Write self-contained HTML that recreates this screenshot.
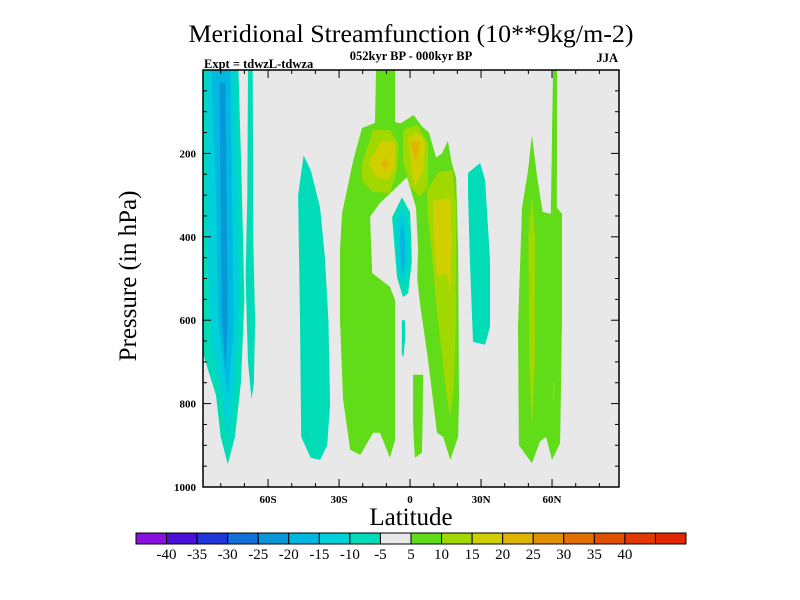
<!DOCTYPE html>
<html><head><meta charset="utf-8"><style>
body{margin:0;background:#fff;}
svg{display:block;font-family:"Liberation Serif",serif;}
</style></head><body>
<svg id="chart" width="800" height="600" viewBox="0 0 800 600" xmlns="http://www.w3.org/2000/svg">
<text x="411" y="42" text-anchor="middle" font-size="25" textLength="445" lengthAdjust="spacingAndGlyphs">Meridional Streamfunction (10**9kg/m-2)</text>
<text x="411" y="60" text-anchor="middle" font-size="12.5" font-weight="bold">052kyr BP - 000kyr BP</text>
<text x="204" y="68" font-size="12.5" font-weight="bold">Expt = tdwzL-tdwza</text>
<text x="618" y="62" text-anchor="end" font-size="12.5" font-weight="bold">JJA</text>
<rect x="203" y="70" width="416" height="417" fill="#e8e8e8"/>
<g id="fields"></g>
<g id="axes"></g>
<text transform="translate(136,276) rotate(-90)" text-anchor="middle" font-size="25">Pressure (in hPa)</text>
<text x="411" y="525" text-anchor="middle" font-size="25">Latitude</text>
<g id="cbar"></g>
</svg>
<script>
// Contour levels & colors
const levelColors = ["#8a10e0","#4a10d8","#2036d8","#1070d8","#0898d8","#00b8e0","#00d0d8","#00dcb8","#e8e8e8","#60dc18","#a0d800","#d0d000","#e0b400","#e09000","#e07000","#e05000","#e03800","#e02800"];
const levelLabels = ["-40","-35","-30","-25","-20","-15","-10","-5","5","10","15","20","25","30","35","40"];
const latTicks = [-60,-30,0,30,60];
const latTickLabels = ["60S","30S","0","30N","60N"];
const presTicks = [200,400,600,800,1000];
// Contour regions: [colorIndex, [[lat,pressure],...]]
const regionLevels = [7,6,5,4,7,7,9,9,10,10,10,11,12,11,12,11,7,6,5,7,7,9,10,10];
const regionShapes = [
 [[-87.5,0],[-72.5,0],[-71,300],[-70,550],[-71.5,750],[-74,880],[-77,945],[-80,880],[-82,780],[-87.5,680]],
 [[-86,0],[-74,0],[-73,300],[-72,550],[-74,750],[-77,880],[-79,800],[-84,650],[-86,400]],
 [[-84,0],[-76,0],[-75,400],[-74.5,620],[-77,780],[-79,700],[-81,600],[-82,300]],
 [[-80.5,30],[-78,30],[-77.5,350],[-77,600],[-78,720],[-79.5,600],[-80,350]],
 [[-68.5,0],[-66.5,0],[-66.3,400],[-65.5,600],[-66,750],[-67,790],[-68.5,700],[-69.5,500],[-68.8,300]],
 [[-45,205],[-42,240],[-38,330],[-36,450],[-34.5,600],[-33.8,800],[-35,900],[-38,935],[-42,930],[-46,880],[-46.5,600],[-47.3,300]],
 [[-14.4,0],[-6.3,0],[-6.3,125],[-4,128],[1.5,108],[5,135],[8,150],[11,210],[13.5,200],[16,170],[17.5,220],[19.5,260],[20.3,430],[20.7,790],[20.3,880],[17,935],[14,880],[11.4,870],[7.6,695],[4.2,560],[3,500],[3.4,430],[2.5,330],[-1.3,257],[-12.7,319],[-16.9,352],[-16,487],[-8.5,520],[-6.3,552],[-6.3,887],[-8.5,930],[-12.7,870],[-15.6,870],[-21,923],[-25.3,911],[-28.3,790],[-29.6,600],[-29.6,432],[-28.7,343],[-24,216],[-20.3,139],[-14.8,127]],
 [[1.3,731],[5.5,731],[5.3,850],[5,918],[2,930],[1.3,850]],
 [[-20.3,223],[-15.6,144],[-8.5,144],[-5,175],[-5.5,240],[-8.5,295],[-16,292],[-20.3,264]],
 [[-3,144],[3,132],[7.6,175],[7.6,280],[4.2,304],[0,280],[-3,216]],
 [[7,290],[12,245],[18,240],[19.5,330],[19.5,600],[18.5,760],[17,830],[15,760],[11,560],[9,430],[7.5,350]],
 [[-17.7,223],[-11.8,168],[-6.3,175],[-6.3,233],[-9.7,264],[-14,257]],
 [[-12.5,225],[-10.5,210],[-8.5,225],[-10.5,240]],
 [[-0.8,163],[3.4,149],[6.3,175],[5.5,240],[2.1,280],[0.8,240]],
 [[0,168],[4.2,173],[3,209],[2.1,216],[0.8,192]],
 [[9.7,312],[17,307],[17.7,408],[17,535],[15.6,487],[11.4,496],[9.7,383]],
 [[-3.4,305],[0,341],[0.8,456],[-0.8,535],[-3,545],[-5.5,497],[-7.6,353]],
 [[-3.5,330],[-1.2,360],[-0.5,450],[-2,500],[-3.5,510],[-5,470],[-6,370]],
 [[-3.2,360],[-2.2,400],[-2,460],[-3,490],[-4.2,450],[-4.2,390]],
 [[-3.5,600],[-2.2,600],[-2,640],[-2.8,690],[-3.5,680]],
 [[24.5,247],[29.6,223],[31.7,264],[33.8,456],[33.8,616],[31.7,659],[26.6,652],[25.3,456],[24.5,295]],
 [[51.5,156],[53.7,256],[56,340],[59.5,345],[60.4,0],[62.1,0],[62,330],[64.2,345],[64.2,600],[63.4,895],[60,935],[57.5,880],[55,890],[51.5,943],[46,900],[45.6,616],[47.3,330],[49.9,240]],
 [[51.5,300],[52.8,400],[52.8,700],[51.5,860],[50.3,700],[50,400]],
 [[60.4,750],[61,750],[61,790],[60.4,790]]
];
const NS="http://www.w3.org/2000/svg";
const X0=203,X1=619,Y0=70,Y1=487,LATMIN=-87.5,LATMAX=88.3,PMIN=0,PMAX=1000;
function xScale(lat){return X0+(lat-LATMIN)/(LATMAX-LATMIN)*(X1-X0);}
function yScale(p){return Y0+(p-PMIN)/(PMAX-PMIN)*(Y1-Y0);}
function mk(tag,attrs,parent){const e=document.createElementNS(NS,tag);for(const k in attrs)e.setAttribute(k,attrs[k]);parent.appendChild(e);return e;}
const fields=document.getElementById('fields');
regionShapes.forEach((shape,i)=>{
  const pts=shape.map(([la,p])=>xScale(la).toFixed(1)+','+yScale(p).toFixed(1)).join(' ');
  const e=mk('polygon',{points:pts,fill:levelColors[regionLevels[i]]},fields);
  
  
});
const axes=document.getElementById('axes');
const frame=mk('rect',{x:X0,y:Y0,width:X1-X0,height:Y1-Y0,fill:'none',stroke:'#000','stroke-width':1.5},axes);


for(let la=-80;la<=80;la+=10){
  const len=(la%30===0)?8:4,x=xScale(la);
  const t1=mk('line',{x1:x,y1:Y1,x2:x,y2:Y1-len,stroke:'#000'},axes);
  
  
  const t2=mk('line',{x1:x,y1:Y0,x2:x,y2:Y0+len,stroke:'#000'},axes);
  
  
}
latTicks.forEach((la,i)=>{
  const t=mk('text',{x:xScale(la),y:503,'text-anchor':'middle','font-size':11,'font-weight':'bold'},axes);
  t.textContent=latTickLabels[i];
  
  
});
for(let p=50;p<=1000;p+=50){
  const len=(p%200===0)?8:4,y=yScale(p);
  const t1=mk('line',{x1:X0,y1:y,x2:X0+len,y2:y,stroke:'#000'},axes);
  
  
  const t2=mk('line',{x1:X1,y1:y,x2:X1-len,y2:y,stroke:'#000'},axes);
  
  
}
presTicks.forEach(p=>{
  const t=mk('text',{x:196,y:yScale(p)+4,'text-anchor':'end','font-size':11,'font-weight':'bold'},axes);
  t.textContent=String(p);
  
  
});
const cbar=document.getElementById('cbar');
const CX0=136,CX1=686,CY=533,CH=11,bw=(CX1-CX0)/levelColors.length;
levelColors.forEach((c,i)=>{
  const r=mk('rect',{x:CX0+i*bw,y:CY,width:bw,height:CH,fill:c,stroke:'#000','stroke-width':1},cbar);
  
  
});
levelLabels.forEach((l,i)=>{
  const t=mk('text',{x:CX0+(i+1)*bw,y:559,'text-anchor':'middle','font-size':15},cbar);
  t.textContent=l;
  
  
});
</script>
</body></html>
